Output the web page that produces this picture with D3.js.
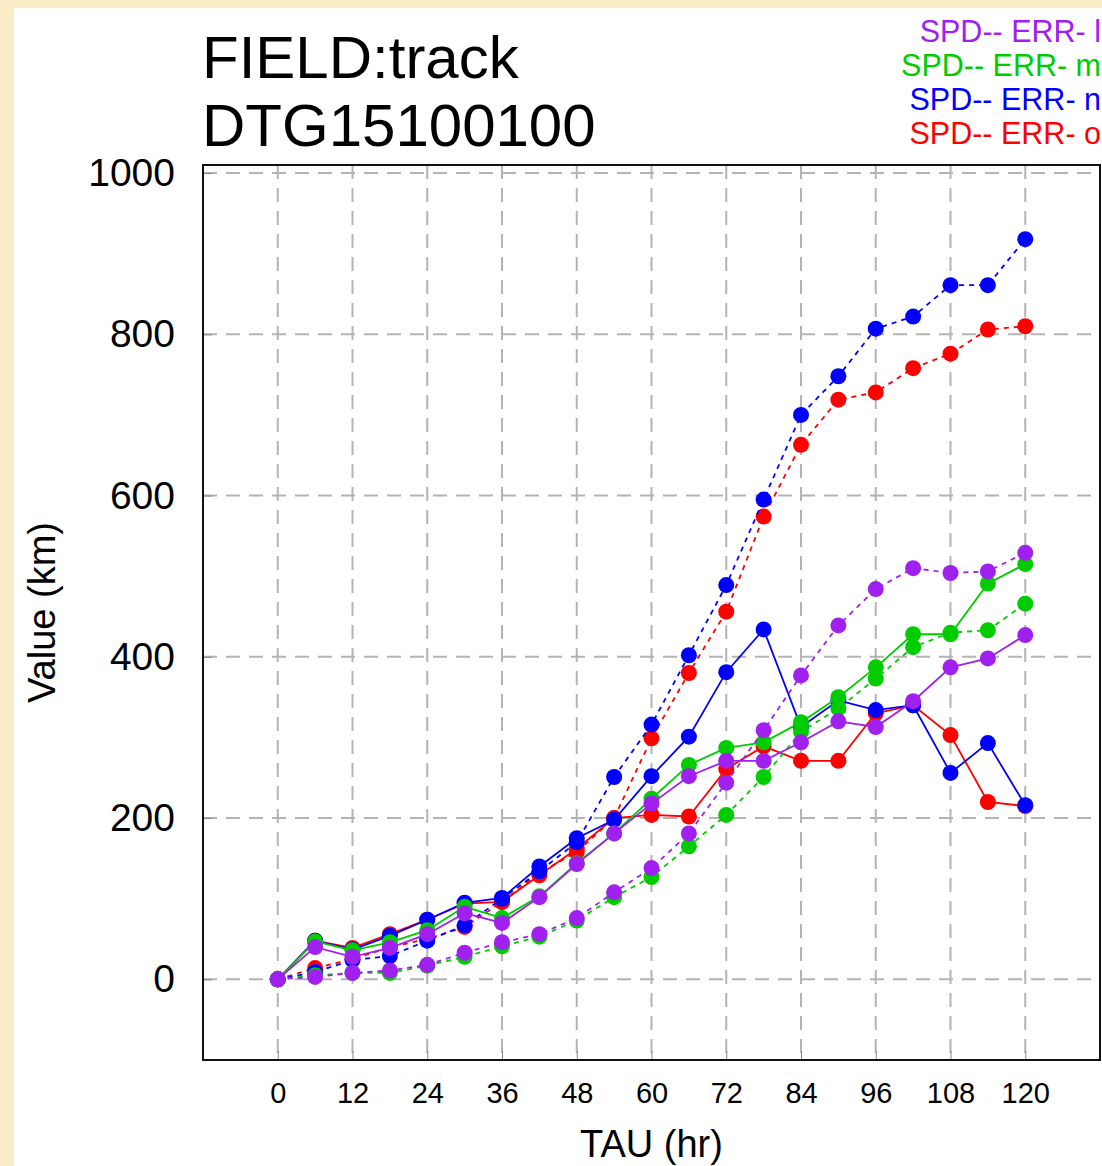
<!DOCTYPE html>
<html>
<head>
<meta charset="utf-8">
<script src="https://cdn.jsdelivr.net/npm/d3@7"></script>
<style>
  html, body { margin: 0; padding: 0; background: #fbecc8; }
  svg { display: block; }
</style>
</head>
<body>
<script>
// forecast hours
var taus = [0, 6, 12, 18, 24, 30, 36, 42, 48, 54, 60, 66, 72, 78, 84, 90, 96, 102, 108, 114, 120];

var xTicks = [0, 12, 24, 36, 48, 60, 72, 84, 96, 108, 120];
var yTicks = [0, 200, 400, 600, 800, 1000];

var legendLabels = ["SPD-- ERR- l", "SPD-- ERR- m", "SPD-- ERR- n", "SPD-- ERR- o"];

// values (km), solid = error, dashed = spread
var redSolid    = [0, 48, 39, 56, 74, 94, 96, 129, 162, 200, 204, 202, 261, 289, 271, 271, 330, 340, 303, 220, 215];
var redDashed   = [0, 14, 25, 40, 50, 65, 96, 132, 158, 200, 299, 380, 456, 574, 663, 719, 728, 758, 776, 806, 810];
var blueSolid   = [0, 48, 37, 54, 74, 95, 101, 140, 175, 198, 252, 301, 381, 434, 313, 346, 334, 340, 256, 293, 216];
var blueDashed  = [0, 9, 24, 29, 48, 67, 100, 134, 170, 251, 316, 402, 489, 595, 700, 748, 807, 822, 861, 861, 918];
var greenSolid  = [0, 47, 36, 46, 61, 90, 76, 103, 144, 181, 224, 266, 287, 294, 319, 350, 387, 428, 428, 491, 515];
var greenDashed = [0, 5, 8, 8, 17, 28, 41, 53, 73, 102, 127, 165, 204, 251, 307, 336, 373, 412, 430, 433, 466];
var purpleSolid = [0, 40, 28, 39, 56, 82, 70, 102, 143, 181, 218, 252, 271, 271, 294, 320, 313, 345, 387, 398, 427];
var purpleDashed= [0, 3, 8, 11, 18, 33, 46, 56, 76, 108, 138, 181, 244, 309, 377, 439, 484, 510, 504, 506, 529];

(function(d3) {

  var W = 1102, H = 1166;

  var svg = d3.select("body").append("svg")
      .attr("width", W)
      .attr("height", H);

  // white sheet on the parchment
  svg.append("rect")
      .attr("x", 14).attr("y", 8)
      .attr("width", W - 14).attr("height", H - 8)
      .attr("fill", "#fff");

  var box = {left: 203, top: 165, right: 1100, bottom: 1060};

  var x = d3.scaleLinear().domain([-12, 132]).range([box.left, box.right]);
  var y = d3.scaleLinear().domain([-100, 1010]).range([box.bottom, box.top]);

  var font = "'Liberation Sans', Arial, Helvetica, sans-serif";

  // grid
  var grid = svg.append("g")
      .attr("stroke", "#b4b4b4")
      .attr("stroke-width", 2)
      .attr("stroke-dasharray", "14,9");

  grid.selectAll(".vg").data(xTicks).enter().append("line")
      .attr("x1", function(d) { return x(d); })
      .attr("x2", function(d) { return x(d); })
      .attr("y1", box.top).attr("y2", box.bottom);

  grid.selectAll(".hg").data(yTicks).enter().append("line")
      .attr("y1", function(d) { return y(d); })
      .attr("y2", function(d) { return y(d); })
      .attr("x1", box.left).attr("x2", box.right);

  // axes with inward ticks
  var xAxis = svg.append("g")
      .attr("transform", "translate(0," + box.bottom + ")")
      .call(d3.axisBottom(x).tickValues(xTicks).tickSize(-9).tickPadding(22));
  xAxis.select(".domain").remove();
  xAxis.selectAll(".tick line").attr("stroke", "#888").attr("stroke-width", 1);
  xAxis.selectAll(".tick text")
      .attr("font-family", font).attr("font-size", 29).attr("fill", "#000");

  var yAxis = svg.append("g")
      .attr("transform", "translate(" + box.left + ",0)")
      .call(d3.axisLeft(y).tickValues(yTicks).tickFormat(d3.format("d")).tickSize(-9).tickPadding(28));
  yAxis.select(".domain").remove();
  yAxis.selectAll(".tick line").attr("stroke", "#888").attr("stroke-width", 1);
  yAxis.selectAll(".tick text")
      .attr("font-family", font).attr("font-size", 39).attr("fill", "#000");

  svg.append("rect")
      .attr("x", box.left).attr("y", box.top)
      .attr("width", box.right - box.left)
      .attr("height", box.bottom - box.top)
      .attr("fill", "none")
      .attr("stroke", "#111")
      .attr("stroke-width", 2);

  // series, drawn back to front
  var series = [
    {values: redSolid,     color: "#ff0000", dash: null},
    {values: redDashed,    color: "#ff0000", dash: "5,5"},
    {values: blueSolid,    color: "#0000ff", dash: null},
    {values: blueDashed,   color: "#0000ff", dash: "5,5"},
    {values: greenSolid,   color: "#00cc00", dash: null},
    {values: greenDashed,  color: "#00cc00", dash: "5,5"},
    {values: purpleSolid,  color: "#a020f0", dash: null},
    {values: purpleDashed, color: "#a020f0", dash: "5,5"}
  ];

  var line = d3.line()
      .x(function(d, i) { return x(taus[i]); })
      .y(function(d) { return y(d); });

  var sg = svg.append("g").selectAll(".series")
      .data(series)
    .enter().append("g")
      .attr("class", "series");

  sg.append("path")
      .attr("d", function(s) { return line(s.values); })
      .attr("fill", "none")
      .attr("stroke", function(s) { return s.color; })
      .attr("stroke-width", 1.8)
      .attr("stroke-dasharray", function(s) { return s.dash; });

  sg.selectAll("circle")
      .data(function(s) { return s.values.map(function(v, i) { return {t: taus[i], v: v, c: s.color}; }); })
    .enter().append("circle")
      .attr("cx", function(d) { return x(d.t); })
      .attr("cy", function(d) { return y(d.v); })
      .attr("r", 8)
      .attr("fill", function(d) { return d.c; });

  // titles
  svg.append("text")
      .attr("x", 202).attr("y", 78)
      .attr("font-family", font).attr("font-size", 60)
      .text("FIELD:track");
  svg.append("text")
      .attr("x", 202).attr("y", 146)
      .attr("font-family", font).attr("font-size", 60)
      .text("DTG15100100");

  svg.append("text")
      .attr("x", (x(0) + x(120)) / 2).attr("y", 1157)
      .attr("text-anchor", "middle")
      .attr("font-family", font).attr("font-size", 38)
      .text("TAU (hr)");

  svg.append("text")
      .attr("transform", "translate(55," + ((box.top + box.bottom) / 2) + ") rotate(-90)")
      .attr("text-anchor", "middle")
      .attr("font-family", font).attr("font-size", 38)
      .text("Value (km)");

  // legend
  var legendColors = ["#a020f0", "#00cc00", "#0000ff", "#ff0000"];
  svg.selectAll(".leg").data(legendLabels).enter().append("text")
      .attr("x", 1101)
      .attr("y", function(d, i) { return 42 + i * 34; })
      .attr("text-anchor", "end")
      .attr("font-family", font).attr("font-size", 30.5)
      .attr("fill", function(d, i) { return legendColors[i]; })
      .text(function(d) { return d; });

}(d3));
</script>
</body>
</html>
